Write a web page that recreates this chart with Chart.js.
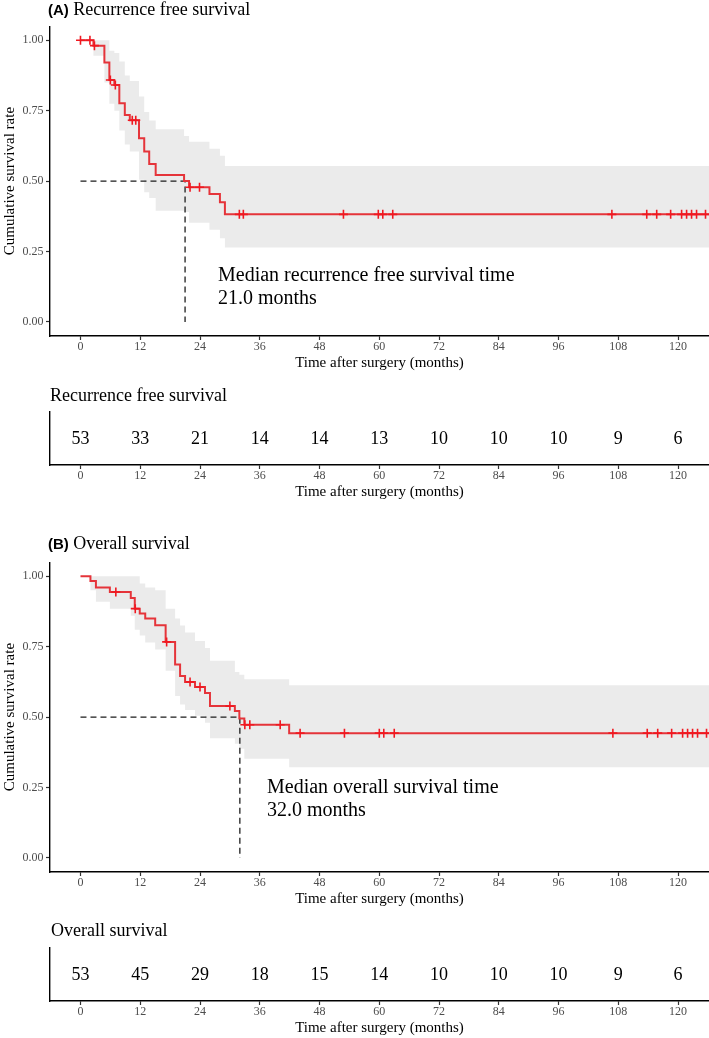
<!DOCTYPE html>
<html><head><meta charset="utf-8">
<script src="https://cdn.jsdelivr.net/npm/chart.js@4"></script>
<style>
body{margin:0;background:#fff;overflow:hidden}
#wrap{position:relative;width:709px;height:1038px;background:#fff;overflow:hidden}
canvas{position:absolute;left:0}
.t{position:absolute;white-space:nowrap;font-family:"Liberation Serif","Times New Roman",serif;color:#000}
.b{font-family:"Liberation Sans",Arial,sans-serif;font-weight:bold;font-size:15px}
</style></head>
<body><div id="wrap">
<canvas id="pA" width="709" height="376" style="top:0px"></canvas>
<canvas id="tA" width="709" height="102" style="top:400px"></canvas>
<canvas id="pB" width="709" height="376" style="top:536px"></canvas>
<canvas id="tB" width="709" height="102" style="top:936px"></canvas>
<div class="t" style="left:48px;top:-0.5px;line-height:18px;font-size:18px"><span class="b">(A)</span> Recurrence free survival</div>
<div class="t" style="left:48px;top:534px;line-height:18px;font-size:18px"><span class="b">(B)</span> Overall survival</div>
<div class="t" style="left:50px;top:386px;line-height:18px;font-size:18px">Recurrence free survival</div>
<div class="t" style="left:51px;top:921px;line-height:18px;font-size:18px">Overall survival</div>
<div class="t" style="left:218px;top:262.5px;line-height:23px;font-size:20px">Median recurrence free survival time<br>21.0 months</div>
<div class="t" style="left:267px;top:775px;line-height:23px;font-size:20px">Median overall survival time<br>32.0 months</div>
</div>
<script>
// ---- data ----
const xTicks = [0, 12, 24, 36, 48, 60, 72, 84, 96, 108, 120];
const yTicks = [0, 0.25, 0.5, 0.75, 1];

// Recurrence free survival
const rfsTime  = [0, 2.6, 4.8, 5.8, 6.8, 7.8, 8.9, 9.9, 11.75, 12.8, 13.8, 15.1, 20.8, 21.8, 25.9, 28.0, 29.0];
const rfsSurv  = [1, 0.981, 0.921, 0.859, 0.841, 0.776, 0.735, 0.716, 0.652, 0.605, 0.561, 0.522, 0.500, 0.478, 0.454, 0.425, 0.382];
const rfsLower = [1, 0.945, 0.850, 0.775, 0.750, 0.680, 0.630, 0.605, 0.505, 0.460, 0.440, 0.395, 0.390, 0.352, 0.327, 0.297, 0.264];
const rfsUpper = [1, 1.000, 1.000, 0.963, 0.955, 0.925, 0.875, 0.855, 0.800, 0.745, 0.715, 0.684, 0.660, 0.640, 0.615, 0.590, 0.554];
const rfsCensor = [0, 1.9, 2.8, 6.0, 7.0, 10.4, 11.1, 22.0, 23.9, 31.9, 32.7, 52.8, 59.8, 60.7, 62.7, 106.7, 113.7, 115.7, 118.5, 120.7, 121.7, 122.7, 123.7, 125.5];
const rfsMedian = 21.0;
const rfsAtRisk = [53, 33, 21, 14, 14, 13, 10, 10, 10, 9, 6];

// Overall survival
const osTime  = [0, 2.0, 3.1, 5.9, 10.1, 10.9, 11.9, 13.0, 15.0, 17.1, 19.0, 20.0, 21.0, 23.0, 25.0, 26.0, 31.0, 31.9, 32.9, 41.9];
const osSurv  = [1, 0.983, 0.960, 0.944, 0.923, 0.885, 0.868, 0.850, 0.826, 0.767, 0.687, 0.646, 0.625, 0.607, 0.586, 0.539, 0.522, 0.495, 0.473, 0.443];
const osLower = [1, 0.950, 0.910, 0.885, 0.860, 0.810, 0.790, 0.765, 0.740, 0.665, 0.575, 0.545, 0.525, 0.505, 0.480, 0.425, 0.405, 0.388, 0.352, 0.322];
const osUpper = [1, 1.000, 1.000, 1.000, 1.000, 1.000, 0.974, 0.960, 0.950, 0.885, 0.850, 0.825, 0.800, 0.770, 0.745, 0.700, 0.660, 0.650, 0.634, 0.613];
const osCensor = [7.1, 11.0, 17.3, 22.0, 24.0, 30.0, 33.0, 34.0, 40.1, 44.1, 53.0, 60.0, 60.9, 63.0, 106.9, 113.8, 115.9, 118.7, 120.9, 121.9, 122.9, 123.9, 125.7];
const osMedian = 32.0;
const osAtRisk = [53, 45, 29, 18, 15, 14, 10, 10, 10, 9, 6];

// ---- rendering ----
const SERIF = '"Liberation Serif","Times New Roman",serif';
const X_MIN = -6.12, X_MAX = 126.2;

function stepPts(time, vals) {
  const p = time.map((t, i) => ({x: t, y: vals[i]}));
  p.push({x: X_MAX, y: vals[vals.length - 1]});
  return p;
}
function stepAt(time, vals, t) {
  let v = vals[0];
  for (let i = 0; i < time.length; i++) if (time[i] <= t) v = vals[i];
  return v;
}
function noPad(s) { s.paddingLeft = 0; s.paddingRight = 0; s.paddingTop = 0; s.paddingBottom = 0; }

function xAxis(h, padB) {
  return {
    type: 'linear', min: X_MIN, max: X_MAX,
    afterBuildTicks: s => { s.ticks = xTicks.map(v => ({value: v})); },
    afterFit: s => { s.height = h; noPad(s); },
    grid: {display: true, drawOnChartArea: false, drawTicks: true, tickLength: 4, tickColor: '#333', tickWidth: 1.2},
    border: {display: true, color: '#000', width: 1.4},
    ticks: {padding: 0, color: '#4d4d4d', font: {family: SERIF, size: 12}, maxRotation: 0, minRotation: 0, autoSkip: false, callback: v => String(v)},
    title: {display: true, text: 'Time after surgery (months)', color: '#000', font: {family: SERIF, size: 15}, padding: {top: 0, bottom: padB}}
  };
}

function makePlot(id, time, surv, lo, hi, censor, median) {
  const cens = censor.map(t => ({x: t, y: stepAt(time, surv, t)}));
  const med = [{x: 0, y: 0.5}, {x: median, y: 0.5}, {x: median, y: 0}];
  new Chart(document.getElementById(id), {
    type: 'line',
    data: {datasets: [
      {data: cens, showLine: false, pointStyle: 'cross', pointRadius: 4.5, pointHoverRadius: 4.5,
       pointBorderColor: '#f01820', pointBorderWidth: 1.6, borderColor: '#f01820'},
      {data: stepPts(time, surv), stepped: 'before', borderColor: '#e5343a', borderWidth: 2, pointRadius: 0, fill: false},
      {data: med, borderColor: '#1c1c1c', borderWidth: 1.3, borderDash: [6, 4], pointRadius: 0, fill: false, tension: 0},
      {data: stepPts(time, hi), stepped: 'before', borderColor: 'rgba(0,0,0,0)', borderWidth: 0, pointRadius: 0, fill: '+1', backgroundColor: '#ebebeb'},
      {data: stepPts(time, lo), stepped: 'before', borderColor: 'rgba(0,0,0,0)', borderWidth: 0, pointRadius: 0, fill: false}
    ]},
    options: {
      responsive: false, animation: false, devicePixelRatio: 1, events: [],
      layout: {autoPadding: false, padding: {top: 26.2, bottom: 0, left: 0, right: 0}},
      plugins: {legend: {display: false}, tooltip: {enabled: false}},
      scales: {
        x: xAxis(40, 4),
        y: {
          min: -0.05, max: 1.05,
          afterBuildTicks: s => { s.ticks = yTicks.map(v => ({value: v})); },
          afterFit: s => { s.width = 50; noPad(s); },
          grid: {display: true, drawOnChartArea: false, drawTicks: true, tickLength: 4, tickColor: '#333', tickWidth: 1.2},
          border: {display: true, color: '#000', width: 1.4},
          ticks: {padding: 2.5, color: '#4d4d4d', font: {family: SERIF, size: 12}, callback: v => Number(v).toFixed(2)},
          title: {display: true, text: 'Cumulative survival rate', color: '#000', font: {family: SERIF, size: 15}, padding: {top: 1, bottom: 0}}
        }
      }
    }
  });
}

const riskLabels = {
  id: 'riskLabels',
  afterDatasetsDraw(chart, args, opts) {
    const meta = chart.getDatasetMeta(0);
    const ctx = chart.ctx;
    ctx.save();
    ctx.font = '18px ' + SERIF;
    ctx.fillStyle = '#000';
    ctx.textAlign = 'center';
    ctx.textBaseline = 'middle';
    meta.data.forEach((el, i) => ctx.fillText(String(opts.values[i]), el.x, el.y + 1));
    ctx.restore();
  }
};

function makeTable(id, atRisk) {
  new Chart(document.getElementById(id), {
    type: 'line',
    data: {datasets: [{data: xTicks.map(t => ({x: t, y: 0.5})), showLine: false, pointRadius: 0}]},
    options: {
      responsive: false, animation: false, devicePixelRatio: 1, events: [],
      layout: {autoPadding: false, padding: {top: 11.7, bottom: 0, left: 0, right: 0}},
      plugins: {legend: {display: false}, tooltip: {enabled: false}, riskLabels: {values: atRisk}},
      scales: {
        x: xAxis(37, 1),
        y: {
          min: 0, max: 1,
          afterFit: s => { s.width = 50; noPad(s); },
          grid: {display: true, drawOnChartArea: false, drawTicks: false},
          border: {display: true, color: '#000', width: 1.4},
          ticks: {display: false}
        }
      }
    },
    plugins: [riskLabels]
  });
}

makePlot('pA', rfsTime, rfsSurv, rfsLower, rfsUpper, rfsCensor, rfsMedian);
makeTable('tA', rfsAtRisk);
makePlot('pB', osTime, osSurv, osLower, osUpper, osCensor, osMedian);
makeTable('tB', osAtRisk);
</script>
</body></html>
